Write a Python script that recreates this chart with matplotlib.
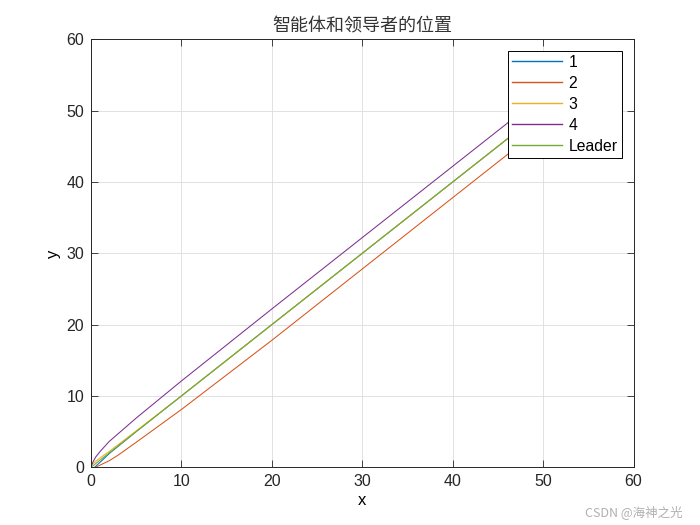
import matplotlib.pyplot as plt
import numpy as np

plt.rcParams['font.family'] = ['Liberation Sans', 'DejaVu Sans']

# agent / leader trajectories (x, y)
x1 = [0.4, 1, 2, 5, 10, 20, 30, 40, 48]
y1 = [0, 0.7, 1.9, 5.0, 10.0, 20.0, 30.0, 40.0, 48.0]
x2 = [0.5, 1, 2, 3, 5, 10, 20, 30, 40, 48]
y2 = [0, 0.3, 0.9, 1.7, 3.5, 8.1, 17.8, 27.8, 37.8, 45.8]
x3 = [0, 0.5, 1, 2, 5, 10, 20, 30, 40, 48]
y3 = [0.3, 0.8, 1.3, 2.2, 5.1, 10.0, 20.0, 30.0, 40.0, 48.0]
x4 = [0, 0.2, 0.5, 1, 2, 5, 10, 20, 30, 40, 48]
y4 = [0, 0.7, 1.4, 2.2, 3.6, 6.9, 12.1, 22.2, 32.2, 42.2, 50.2]
xl = [0, 10, 20, 30, 40, 48]
yl = [0, 10, 20, 30, 40, 48]

labels = ['1', '2', '3', '4', 'Leader']
colors = ['#0072BD', '#D95319', '#EDB120', '#7E2F8E', '#77AC30']

fig = plt.figure(figsize=(7, 5.25), dpi=100)
ax = fig.add_axes([0.13, 0.11, 0.775, 0.815])

for xs, ys, c, lab in zip([x1, x2, x3, x4, xl], [y1, y2, y3, y4, yl], colors, labels):
    ax.plot(xs, ys, color=c, linewidth=0.75, label=lab)

ax.set_xlim(0, 60)
ax.set_ylim(0, 60)
ax.set_xticks(np.arange(0, 61, 10))
ax.set_yticks(np.arange(0, 61, 10))
ax.grid(True, color='#dcdcdc', linewidth=0.6)
ax.tick_params(direction='in', top=True, right=True, labelsize=11.5, length=5, width=0.6,
               colors='#262626', pad=5)
for s in ax.spines.values():
    s.set_linewidth(0.7)
    s.set_color('#262626')

ax.set_xlabel('x', fontsize=12, labelpad=3)
ax.set_ylabel('y', fontsize=12)
ax.set_title('智能体和领导者的位置', fontsize=13, pad=6,
             family=['Noto Sans CJK SC', 'DejaVu Sans'], color='#333333')

leg = ax.legend(loc='upper right', bbox_to_anchor=(0.978, 0.973), fontsize=11.3,
                fancybox=False, framealpha=1, edgecolor='black', handlelength=3.2,
                borderpad=0.25, labelspacing=0.38, handletextpad=0.4, borderaxespad=0)
leg.get_frame().set_linewidth(0.7)
for h in leg.get_lines():
    h.set_linewidth(1.0)

fig.text(0.975, 0.012, 'CSDN @海神之光', ha='right', va='bottom', fontsize=9, color='#b0b0b0',
         family=['Noto Sans CJK SC', 'DejaVu Sans'])

fig.savefig('out.png', dpi=100)
